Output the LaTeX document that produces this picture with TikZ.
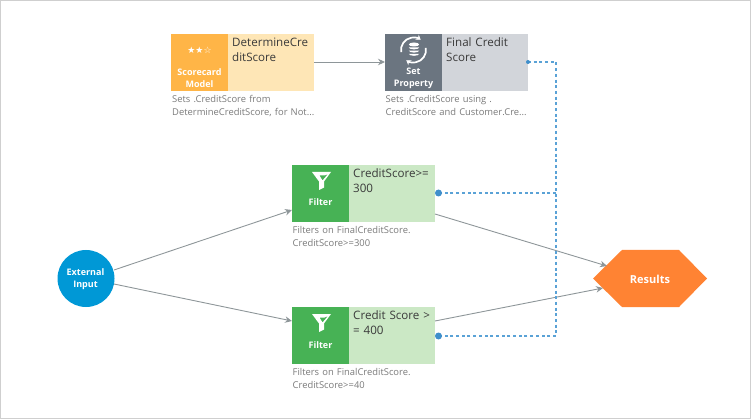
\documentclass[tikz,border=0pt]{standalone}
\usepackage{fontspec}
\setmainfont{Open Sans}
\newfontfamily\symfont{DejaVu Sans}
\usetikzlibrary{arrows.meta}
\definecolor{framec}{HTML}{CFCFCF}
\definecolor{linkc}{HTML}{8E9699}
\definecolor{dotc}{HTML}{3F8FCB}
\definecolor{dashc}{HTML}{5AA2D6}
\definecolor{txt}{HTML}{3A3A3A}
\definecolor{desc}{HTML}{7A7A7A}
\tikzset{
  x=1pt,y=-1pt,
  iconbox/.style={minimum width=57pt,minimum height=57pt,inner sep=0pt,outer sep=0pt,anchor=north west},
  namebox/.style={minimum width=86pt,minimum height=57pt,inner sep=0pt,outer sep=0pt,anchor=north west},
  nametext/.style={anchor=north west,inner sep=0pt,text width=84pt,align=left,font=\fontsize{11.6}{15}\selectfont,text=txt},
  desctext/.style={anchor=north west,inner sep=0pt,text width=150pt,align=left,font=\fontsize{9.4}{12.6}\selectfont,text=desc},
  icontext/.style={inner sep=0pt,align=center,text=white,font=\fontsize{9}{12}\selectfont\bfseries},
  link/.style={draw=linkc,line width=0.9pt,-{Stealth[length=7pt,width=6.5pt]}},
  dotlink/.style={draw=dashc,line width=1.2pt,dash pattern=on 3pt off 2.7pt},
  dotend/.style={circle,fill=dotc,minimum size=7pt,inner sep=0pt},
  iconarc/.style={draw=white,line width=1.7pt,-{Stealth[length=4.5pt,width=6pt]}}
}
\newcommand{\funnel}[2]{%
  \fill[white,even odd rule] (#1-9.5,#2-9) -- (#1+9.5,#2-9) -- (#1+2.5,#2+0.5) -- (#1+2.5,#2+6.5) -- (#1-2.5,#2+9) -- (#1-2.5,#2+0.5) -- cycle
    (#1-2,#2-5.5) -- (#1+3,#2-5.5) -- (#1+6.5,#2-7) -- (#1+1,#2-0.5) -- cycle;
}
\begin{document}
\begin{tikzpicture}
\useasboundingbox (0,0) rectangle (751,419);
\draw[framec,line width=1pt] (0.5,0.5) rectangle (750.5,418.5);
% scorecard
\node[iconbox,fill={rgb,255:red,255;green,181;blue,71}] (sc) at (171,34) {};
\node[namebox,fill={rgb,255:red,254;green,230;blue,182}] (scn) at (228,34) {};
\node[nametext] (scnt) at (232,37.5) {DetermineCre\\ditScore};
\node[icontext,font=\fontsize{9}{10}\selectfont\symfont] (scs) at (199.5,50) {★★☆};
\node[icontext] (scl) at (199.5,78) {Scorecard\\Model};
\node[desctext] (scd) at (172,95.5) {Sets .CreditScore from\\DetermineCreditScore, for Not...};
% set property
\node[iconbox,fill={rgb,255:red,107;green,117;blue,128}] (sp) at (385,34) {};
\node[namebox,fill={rgb,255:red,210;green,213;blue,218}] (spn) at (442,34) {};
\node[nametext] (spnt) at (446,37.5) {Final Credit\\Score};
\node[icontext] (spl) at (413.5,78) {Set\\Property};
\node[desctext] (spd) at (385.5,95.5) {Sets .CreditScore using .\\CreditScore and Customer.Cre...};
\fill[white] (414,44.5) ellipse (5.2pt and 2pt);
\fill[white] (408.8,47.4) -- (419.2,47.4) arc (0:-180:5.2pt and 2pt) -- cycle;
\fill[white] (408.8,50.6) -- (419.2,50.6) arc (0:-180:5.2pt and 2pt) -- cycle;
\fill[white] (408.8,53.8) -- (419.2,53.8) arc (0:-180:5.2pt and 2pt) -- cycle;
\coordinate (icn) at (413.5,50);
\draw[iconarc] ([shift={(190:12.5pt)}]icn) arc (190:55:12.5pt);
\draw[iconarc] ([shift={(10:12.5pt)}]icn) arc (10:-125:12.5pt);
% filters
\node[iconbox,fill={rgb,255:red,71;green,178;blue,85}] (fa) at (292,165) {};
\node[namebox,fill={rgb,255:red,203;green,232;blue,197}] (fan) at (349,165) {};
\node[nametext] (fant) at (353,168.5) {CreditScore>=\\300};
\node[icontext] (fal) at (320.5,202.5) {Filter};
\node[desctext] (fad) at (292.5,226.5) {Filters on FinalCreditScore.\\CreditScore>=300};
\funnel{321.5}{181}
\node[iconbox,fill={rgb,255:red,71;green,178;blue,85}] (fb) at (292,307) {};
\node[namebox,fill={rgb,255:red,203;green,232;blue,197}] (fbn) at (349,307) {};
\node[nametext] (fbnt) at (353,310.5) {Credit Score >\\= 400};
\node[icontext] (fbl) at (320.5,345) {Filter};
\node[desctext] (fbd) at (292.5,368.5) {Filters on FinalCreditScore.\\CreditScore>=40};
\funnel{321.5}{323}
% start and end
\node[circle,fill={rgb,255:red,0;green,152;blue,214},minimum size=57pt,inner sep=0pt,outer sep=0pt] (ext) at (86,278.5) {};
\node[icontext] (extl) at (85.5,279) {External\\Input};
\path[fill={rgb,255:red,255;green,131;blue,51}] (593,278.5) -- (622,250) -- (679,250) -- (707,278.5) -- (679,307) -- (622,307) -- cycle;
\node[icontext,font=\fontsize{11}{12}\selectfont\bfseries] (resl) at (650,279) {Results};
% connectors
\coordinate (scout) at (314,62);
\coordinate (spin) at (385,62);
\draw[link] (scout) -- (spin);
\coordinate (ea) at (114,270);
\coordinate (fain) at (292,210);
\draw[link] (ea) -- (fain);
\coordinate (eb) at (114,284);
\coordinate (fbin) at (292,321);
\draw[link] (eb) -- (fbin);
\coordinate (faout) at (435,214);
\coordinate (resa) at (607,266);
\draw[link] (faout) -- (resa);
\coordinate (fbout) at (435,321);
\coordinate (resb) at (603,288);
\draw[link] (fbout) -- (resb);
% dotted links
\coordinate (spo) at (528,62);
\coordinate (faq) at (438.5,193);
\coordinate (fbq) at (438.5,336);
\coordinate (bus) at (556,62);
\draw[dotlink] (spo) -- (bus) -- (bus |- fbq) -- (fbq);
\draw[dotlink] (bus |- faq) -- (faq);
\node[dotend] (da) at (faq) {};
\node[dotend] (db) at (fbq) {};
\fill[dotc] (spo) circle (2pt);
\end{tikzpicture}
\end{document}
